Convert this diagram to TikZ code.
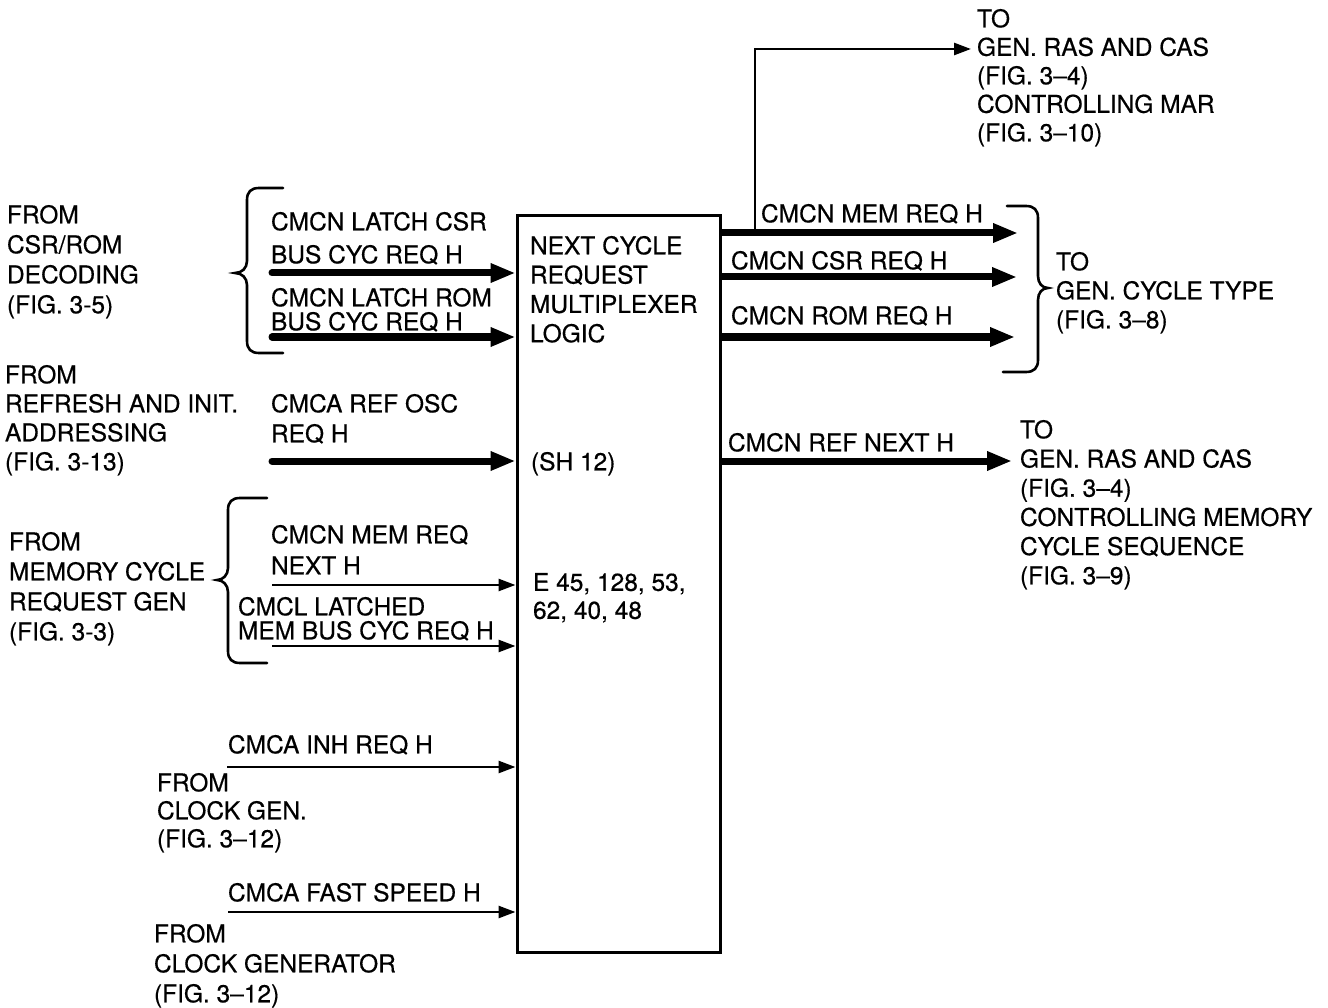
\documentclass[tikz,border=0pt]{standalone}
\usepackage{fontspec}
\setmainfont{TeX Gyre Heros}[FakeBold=0.5]
\usetikzlibrary{arrows.meta,calc}
\begin{document}
\begin{tikzpicture}[x=1pt,y=-1pt,
  lbl/.style={font=\fontsize{24.5}{#1}\selectfont, align=left, anchor=north west, inner sep=0pt, outer sep=0pt},
  lbl/.default=30,
  thickarrow/.style={line width=7pt, line cap=round, -{Triangle[length=25pt,width=18pt]}},
  thinarrow/.style={line width=2.6pt, -{Triangle[length=17pt,width=12pt]}},
  bracepath/.style={line width=2.6pt, line cap=round},
  boxstyle/.style={draw, line width=3pt, minimum width=203pt, minimum height=736pt, inner sep=0pt}
]
\useasboundingbox (0,0) rectangle (1328,1008);

% main block
\node[boxstyle] (box) at (618.5,584) {};
\node[lbl=29.3] (btitle) at (530,236) {NEXT CYCLE\\REQUEST\\MULTIPLEXER\\LOGIC};
\node[lbl] (bsh) at (531,452) {(SH 12)};
\node[lbl=28] (be) at (533,573) {E 45, 128, 53,\\62, 40, 48};

% left source labels
\node[lbl=30] (fromcsr) at (7,205) {FROM\\CSR/ROM\\DECODING\\(FIG. 3-5)};
\node[lbl=29] (fromref) at (5,365) {FROM\\REFRESH AND INIT.\\ADDRESSING\\(FIG. 3-13)};
\node[lbl=30] (frommem) at (9,532) {FROM\\MEMORY CYCLE\\REQUEST GEN\\(FIG. 3-3)};
\node[lbl=28] (fromclka) at (157,773) {FROM\\CLOCK GEN.\\(FIG. 3--12)};
\node[lbl=30] (fromclkb) at (154,924) {FROM\\CLOCK GENERATOR\\(FIG. 3--12)};

% input signal labels
\node[lbl=33] (lcsr) at (271,212) {CMCN LATCH CSR\\BUS CYC REQ H};
\node[lbl=24] (lrom) at (271,288) {CMCN LATCH ROM\\BUS CYC REQ H};
\node[lbl=30] (lref) at (271,394) {CMCA REF OSC\\REQ H};
\node[lbl=31] (lmem) at (271,525) {CMCN MEM REQ\\NEXT H};
\node[lbl=24] (llat) at (238,597) {CMCL LATCHED\\MEM BUS CYC REQ H};
\node[lbl] (linh) at (228,735) {CMCA INH REQ H};
\node[lbl] (lfast) at (228,883) {CMCA FAST SPEED H};

% input start points
\coordinate (i1) at (272,273);
\coordinate (i2) at (272,337);
\coordinate (i3) at (272,461);
\coordinate (i4) at (272,585);
\coordinate (i5) at (272,646);
\coordinate (i6) at (227,767);
\coordinate (i7) at (228,912);

\draw[thickarrow] (i1) -- (i1 -| box.west);
\draw[thickarrow] (i2) -- (i2 -| box.west);
\draw[thickarrow] (i3) -- (i3 -| box.west);
\draw[thinarrow] (i4) -- (i4 -| box.west);
\draw[thinarrow] (i5) -- (i5 -| box.west);
\draw[thinarrow] (i6) -- (i6 -| box.west);
\draw[thinarrow] (i7) -- (i7 -| box.west);

% left braces
\draw[bracepath] (283,188) -- (259,188) .. controls (251,188) and (247,192) .. (247,200)
  -- (247,261) .. controls (247,268) and (242,273) .. (235,273)
  .. controls (242,273) and (247,278) .. (247,285)
  -- (247,341) .. controls (247,349) and (251,353) .. (259,353) -- (283,353);
\draw[bracepath] (267,498) -- (240,498) .. controls (232,498) and (228,502) .. (228,510)
  -- (228,568) .. controls (228,575) and (223,580) .. (217,580)
  .. controls (223,580) and (228,585) .. (228,592)
  -- (228,651) .. controls (228,659) and (232,663) .. (240,663) -- (267,663);

% outputs
\coordinate (o1) at (1018,233);
\coordinate (o2) at (1017,277);
\coordinate (o3) at (1015,337);
\coordinate (o4) at (1012,461);
\draw[thickarrow, line cap=butt] (box.east |- o1) -- (o1);
\draw[thickarrow, line cap=butt] (box.east |- o2) -- (o2);
\draw[thickarrow, line cap=butt] (box.east |- o3) -- (o3);
\draw[thickarrow, line cap=butt] (box.east |- o4) -- (o4);

\node[lbl] (lo1) at (761,204) {CMCN MEM REQ H};
\node[lbl] (lo2) at (731,251) {CMCN CSR REQ H};
\node[lbl] (lo3) at (731,306) {CMCN ROM REQ H};
\node[lbl] (lo4) at (728,433) {CMCN REF NEXT H};

% branch to MAR
\coordinate (br) at (755,233);
\coordinate (tmar) at (971,49);
\draw[thinarrow] (br) |- (tmar);

% right brace
\draw[bracepath] (1007,206) -- (1026,206) .. controls (1034,206) and (1038,210) .. (1038,218)
  -- (1038,276) .. controls (1038,283) and (1042,288) .. (1048,288)
  .. controls (1042,288) and (1038,293) .. (1038,300)
  -- (1038,360) .. controls (1038,368) and (1034,372) .. (1026,372) -- (1003,372);

% destination labels
\node[lbl=28.5] (tomar) at (977,9) {TO\\GEN. RAS AND CAS\\(FIG. 3--4)\\CONTROLLING MAR\\(FIG. 3--10)};
\node[lbl=29] (tocyc) at (1056,252) {TO\\GEN. CYCLE TYPE\\(FIG. 3--8)};
\node[lbl=29.2] (toseq) at (1020,420) {TO\\GEN. RAS AND CAS\\(FIG. 3--4)\\CONTROLLING MEMORY\\CYCLE SEQUENCE\\(FIG. 3--9)};
\end{tikzpicture}
\end{document}
